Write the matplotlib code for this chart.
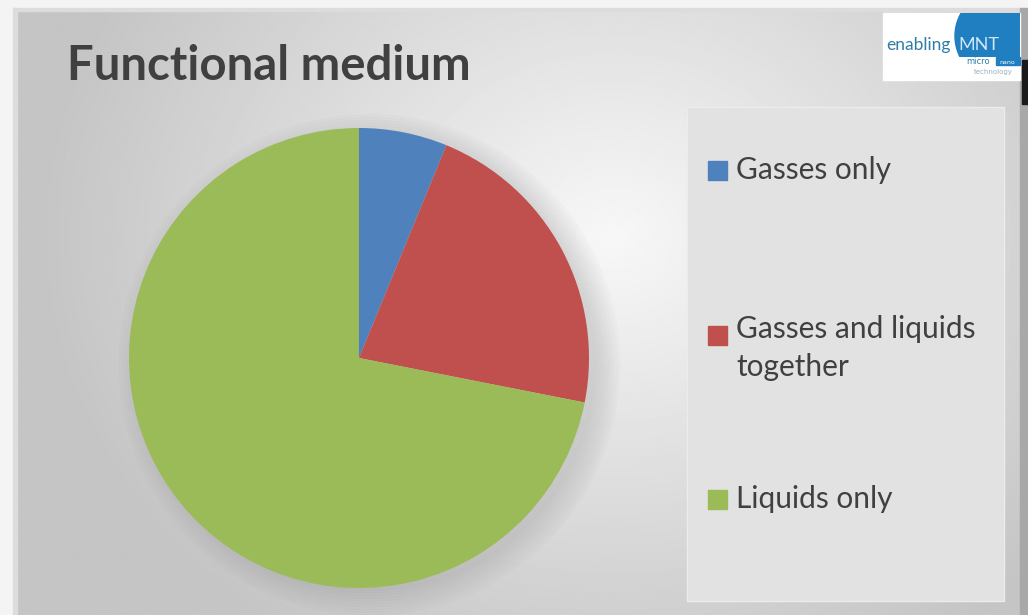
import numpy as np
import matplotlib.pyplot as plt
from matplotlib.patches import Rectangle, Circle

# data
categories = ['Gasses only', 'Gasses and liquids\ntogether', 'Liquids only']
shares = [6.2, 21.9, 71.9]
colors = ['#4F81BD', '#C0504D', '#9BBB59']
title = 'Functional medium'

W, H = 1028, 615
fig = plt.figure(figsize=(W / 100, H / 100), dpi=100)
fig.patch.set_facecolor('#f4f4f4')

# background axes in pixel coordinates
bg = fig.add_axes([0, 0, 1, 1])
bg.set_xlim(0, W)
bg.set_ylim(H, 0)
bg.axis('off')

# slide with soft radial gradient
yy, xx = np.mgrid[0:H, 0:W]
d = np.sqrt(((xx - 610) / 620.0) ** 2 + ((yy - 230) / 520.0) ** 2)
shade = np.clip(0.97 - 0.21 * d, 0.77, 0.97)
bg.imshow(shade, cmap='gray', vmin=0, vmax=1, extent=[17, 1021, H, 11],
          zorder=1, aspect='auto')
bg.add_patch(Rectangle((13, 8), 4, H, color='#dcdcdc', zorder=2))
bg.add_patch(Rectangle((13, 8), 1010, 3, color='#dcdcdc', zorder=2))
bg.add_patch(Rectangle((1020, 8), 8, H, color='#a8a8a8', zorder=2))
bg.add_patch(Rectangle((1022, 60), 6, 44, color='#1a1a1a', zorder=3))

# title
bg.text(67, 66, title, fontsize=34, fontweight='bold', family='Lato',
        color='#404040', va='center', ha='left', zorder=5)

# logo
bg.add_patch(Rectangle((883, 13), 137, 67, color='white', zorder=4))
logo_circle = Circle((1001, 36), 46, color='#1f7fc0', zorder=5)
bg.add_patch(logo_circle)
logo_circle.set_clip_path(Rectangle((883, 13), 137, 44, transform=bg.transData))
bg.text(886, 50, 'enabling', fontsize=12.5, color='#2f7ca6', family='Lato',
        zorder=6, va='baseline')
bg.text(958, 50, 'MNT', fontsize=13, color='#cfe6f6', family='Lato',
        zorder=6, va='baseline')
bg.text(966, 64, 'micro', fontsize=6, color='#2f7ca6', zorder=6,
        va='baseline')
bg.add_patch(Rectangle((996, 57), 24, 8, color='#1f7fc0', zorder=5))
bg.text(999, 63.5, 'nano', fontsize=4.5, color='white', zorder=6,
        va='baseline')
bg.text(974, 74, 'technology', fontsize=5, color='#9ab0c0', zorder=6,
        va='baseline')

# legend panel
bg.add_patch(Rectangle((687, 107), 317, 494, facecolor='#e2e2e2',
                       edgecolor='#ececec', lw=1, zorder=3))
legend_y = [170, 335, 499]
for cat, col, y in zip(categories, colors, legend_y):
    bg.add_patch(Rectangle((708, y - 9.5), 19, 19, color=col, zorder=5))
    two = '\n' in cat
    bg.text(736, y - 20 if two else y, cat, fontsize=21.5, family='Lato',
            color='#404040', va='top' if two else 'center', ha='left',
            zorder=5, linespacing=1.45)

# pie
cx, cy, r = 359, 358, 230
pax = fig.add_axes([(cx - r) / W, (H - cy - r) / H, 2 * r / W, 2 * r / H])
pax.set_xlim(-1, 1)
pax.set_ylim(-1, 1)
pax.axis('off')
for k in range(10):
    pax.add_patch(Circle((0.045, -0.03), 0.98 + k * 0.012, color='#707070',
                         alpha=0.02, zorder=0, clip_on=False))
pax.pie(shares, colors=colors, startangle=90, counterclock=False,
        radius=1, wedgeprops=dict(edgecolor='none'))
pax.set_xlim(-1, 1)
pax.set_ylim(-1, 1)

fig.savefig('out.png', dpi=100)
